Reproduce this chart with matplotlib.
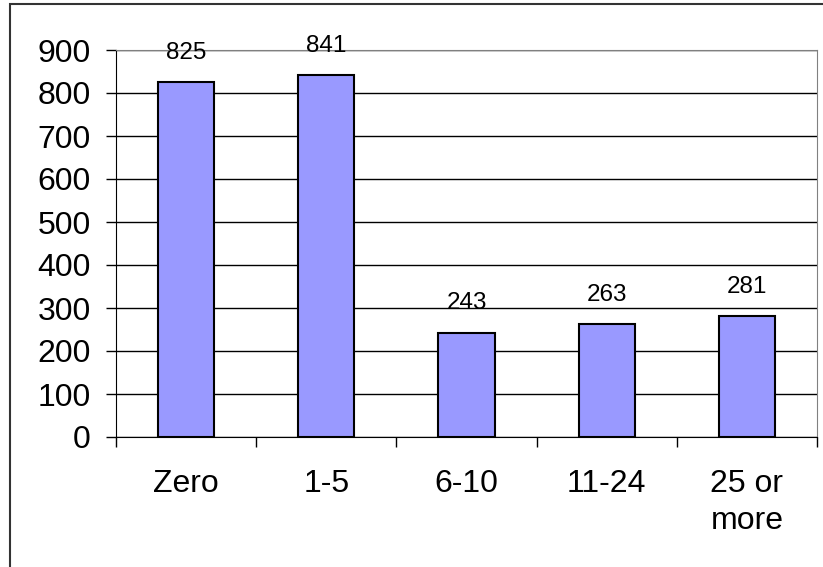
import matplotlib.pyplot as plt
import numpy as np

plt.rcParams['font.family'] = ['Liberation Sans', 'DejaVu Sans']

categories = ['Zero', '1-5', '6-10', '11-24', '25 or\nmore']
values = [825, 841, 243, 263, 281]
yticks = [0, 100, 200, 300, 400, 500, 600, 700, 800, 900]

fig = plt.figure(figsize=(8.23, 5.67), dpi=100)
# outer chart border (right/bottom edges fall off the image)
fig.patches.append(plt.Rectangle((10 / 823, -0.01), 1.0, 1 - 4 / 567 + 0.01,
                                 transform=fig.transFigure, fill=False,
                                 edgecolor='#333333', linewidth=1.5))

ax = fig.add_axes([116 / 823, 1 - 437 / 567, (817 - 116) / 823, (437 - 50) / 567])
x = np.arange(len(categories))
ax.bar(x, values, width=0.4, color='#9999FF', edgecolor='black', linewidth=1.5, zorder=3)

for xi, v in zip(x, values):
    ax.annotate(str(v), (xi, v), xytext=(0, 13), textcoords='offset points',
                ha='center', va='bottom', fontsize=17.5)

ax.set_xlim(-0.5, len(categories) - 0.5)
ax.set_ylim(0, 900)
ax.set_yticks(yticks)
ax.tick_params(axis='y', labelsize=23, length=7, width=1, pad=11)
ax.yaxis.grid(True, color='black', linewidth=1, zorder=0)

ax.set_xticks(np.arange(len(categories) + 1) - 0.5)
ax.set_xticklabels([])
ax.set_xticks(x, minor=True)
ax.set_xticklabels(categories, minor=True, fontsize=23, linespacing=1.3)
ax.tick_params(axis='x', which='major', length=7, width=1)
ax.tick_params(axis='x', which='minor', length=0, pad=23)
for lbl in ax.get_xticklabels(minor=True):
    lbl.set_verticalalignment('top')

for s in ['left', 'bottom']:
    ax.spines[s].set_color('black')
for s in ['top', 'right']:
    ax.spines[s].set_color('#808080')

fig.savefig('out.png', dpi=100)
